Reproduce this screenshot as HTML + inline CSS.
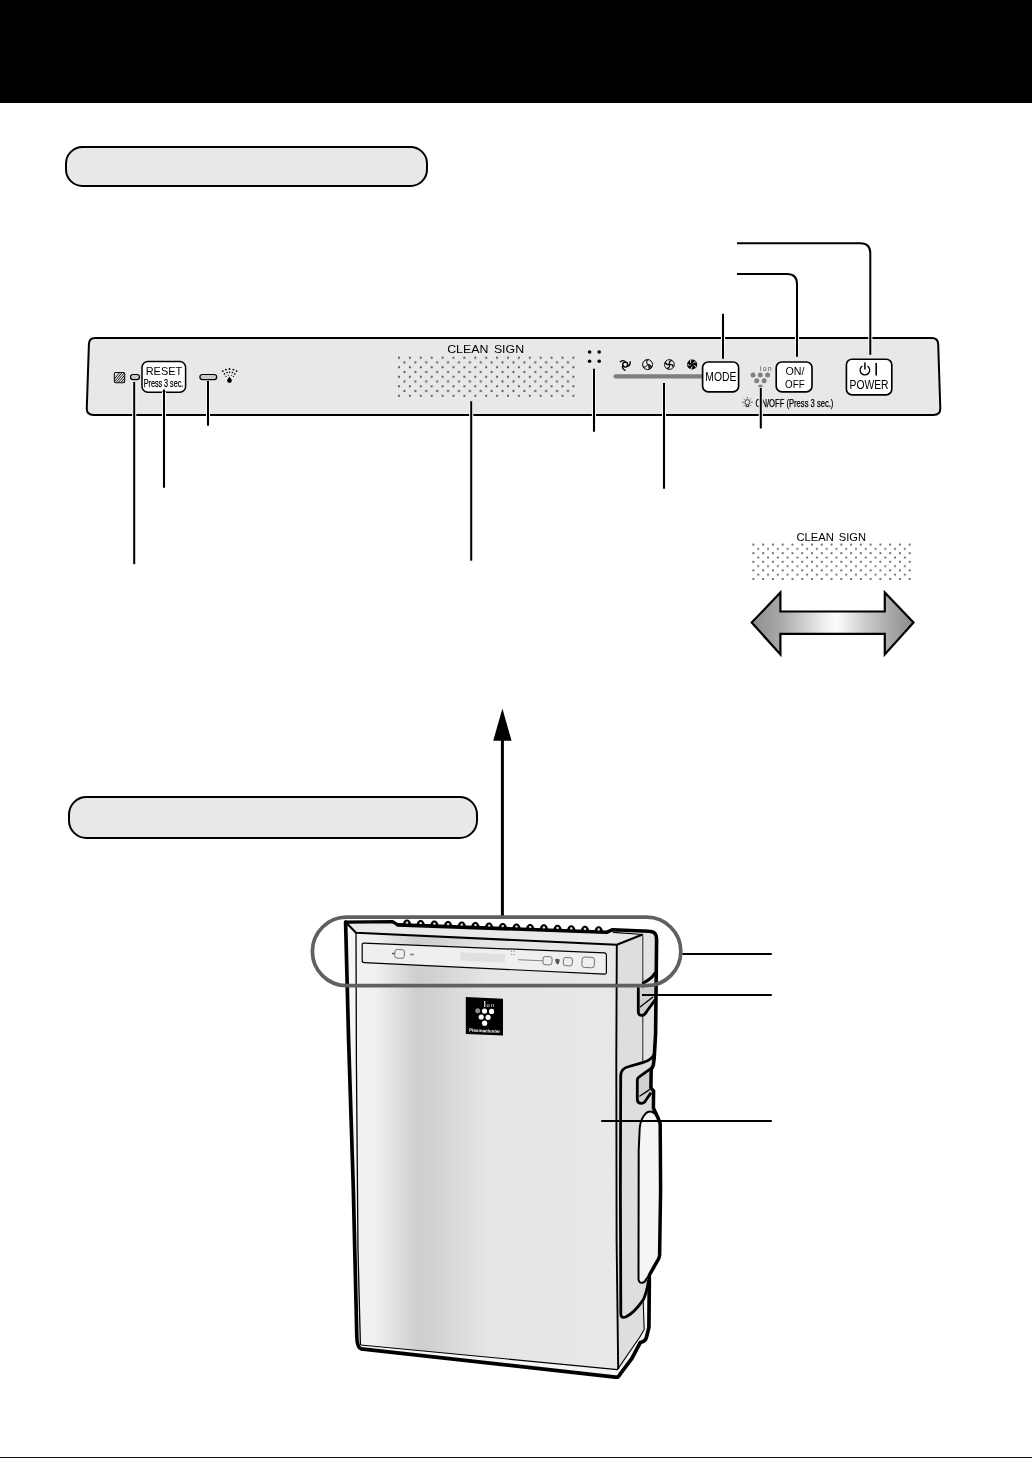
<!DOCTYPE html>
<html><head><meta charset="utf-8"><style>
html,body{margin:0;padding:0;background:#fff;}
body{width:1032px;height:1458px;overflow:hidden;font-family:"Liberation Sans",sans-serif;}
svg{position:absolute;left:0;top:0;display:block;will-change:transform;}
text{font-family:"Liberation Sans",sans-serif;fill:#000;}
</style></head><body>
<svg width="1032" height="1458" viewBox="0 0 1032 1458">
<defs>
<pattern id="dotsA" x="398" y="356.7" width="10.9" height="9.52" patternUnits="userSpaceOnUse">
<circle cx="1" cy="1" r="1.12" fill="#5c5c5c"/><circle cx="6.45" cy="5.76" r="1.12" fill="#5c5c5c"/>
</pattern>
<pattern id="dotsB" x="752.4" y="543.6" width="9.77" height="8.6" patternUnits="userSpaceOnUse">
<circle cx="1" cy="1" r="1.05" fill="#606060"/><circle cx="5.885" cy="5.3" r="1.05" fill="#606060"/>
</pattern>
<linearGradient id="arrowG" x1="0" x2="1" y1="0" y2="0">
<stop offset="0" stop-color="#8e8e8e"/><stop offset="0.176" stop-color="#a8a8a8"/><stop offset="0.30" stop-color="#c8c8c8"/><stop offset="0.45" stop-color="#f0f0f0"/><stop offset="0.527" stop-color="#fcfcfc"/><stop offset="0.669" stop-color="#d4d4d4"/><stop offset="0.823" stop-color="#b0b0b0"/><stop offset="1" stop-color="#8a8a8a"/>
</linearGradient>
<linearGradient id="frontG" gradientUnits="userSpaceOnUse" x1="356" x2="618" y1="0" y2="0">
<stop offset="0" stop-color="#f3f3f3"/><stop offset="0.08" stop-color="#efefef"/><stop offset="0.235" stop-color="#cecece"/><stop offset="0.28" stop-color="#d0d0d0"/><stop offset="0.5" stop-color="#e5e5e5"/><stop offset="1" stop-color="#e8e8e8"/>
</linearGradient>
</defs>

<!-- header -->
<rect x="0" y="0" width="1032" height="103" fill="#000"/>

<!-- section pills -->
<rect x="66" y="147" width="361" height="39" rx="16.5" fill="#e8e8e8" stroke="#000" stroke-width="2"/>
<rect x="69" y="797" width="408" height="41" rx="17.5" fill="#e8e8e8" stroke="#000" stroke-width="2"/>

<!-- PANEL -->
<g id="panel">
<path d="M95.2,338 H931.8 Q938,338 938.2,344.2 L940.3,408 Q940.5,415 933.5,415 H93.6 Q86.5,415 86.8,408 L88.9,344.2 Q89.1,338 95.2,338 Z" fill="#e8e8e8" stroke="#000" stroke-width="2"/>

<!-- hatched square -->
<g>
<clipPath id="hsq"><rect x="114.3" y="372.5" width="10.4" height="10.2" rx="1.4"/></clipPath>
<rect x="114.3" y="372.5" width="10.4" height="10.2" rx="1.4" fill="#e2e2e2"/>
<g clip-path="url(#hsq)" stroke="#111" stroke-width="0.95">
<path d="M110,384 l11,-13 M112.4,384 l11,-13 M114.8,384 l11,-13 M117.2,384 l11,-13 M119.6,384 l11,-13 M122,384 l11,-13"/>
</g>
<rect x="114.3" y="372.5" width="10.4" height="10.2" rx="1.4" fill="none" stroke="#111" stroke-width="1.1"/>
</g>
<!-- small LED -->
<rect x="130.5" y="374.5" width="9" height="5.2" rx="2.6" fill="#c8c8c8" stroke="#000" stroke-width="1.2"/>
<!-- RESET button -->
<rect x="142" y="361.6" width="43.6" height="30.6" rx="5.8" fill="#fff" stroke="#000" stroke-width="1.5"/>
<text x="164" y="375" font-size="11.4" text-anchor="middle" textLength="36.6" lengthAdjust="spacingAndGlyphs">RESET</text>
<text x="163.5" y="386.6" font-size="10" text-anchor="middle" textLength="39.6" lengthAdjust="spacingAndGlyphs" stroke="#000" stroke-width="0.25">Press 3 sec.</text>
<!-- long LED -->
<rect x="199.9" y="374.5" width="16.8" height="5.2" rx="2.6" fill="#c8c8c8" stroke="#000" stroke-width="1.2"/>
<!-- water drop icon -->
<g fill="#000">
<path d="M229.5,376.4 C230.4,378 231.9,379.2 231.9,380.6 A2.4,2.4 0 0 1 227.1,380.6 C227.1,379.2 228.6,378 229.5,376.4 Z"/>
<circle cx="222.8" cy="371.1" r="0.95"/><circle cx="225.9" cy="369.6" r="0.95"/><circle cx="229.5" cy="369" r="0.95"/><circle cx="233.4" cy="369.6" r="0.95"/><circle cx="236.5" cy="371.1" r="0.95"/>
<circle cx="224.5" cy="373.9" r="0.8"/><circle cx="227" cy="372.5" r="0.8"/><circle cx="229.5" cy="372.2" r="0.8"/><circle cx="232.4" cy="372.5" r="0.8"/><circle cx="234.8" cy="373.9" r="0.8"/>
<circle cx="225.9" cy="376.4" r="0.55"/><circle cx="228.3" cy="375.2" r="0.55"/><circle cx="231.4" cy="375.3" r="0.55"/><circle cx="233.4" cy="376.4" r="0.6"/>
</g>

<!-- CLEAN SIGN -->
<text x="447.2" y="352.8" font-size="11.6" textLength="41.2" lengthAdjust="spacingAndGlyphs">CLEAN</text><text x="493.9" y="352.8" font-size="11.6" textLength="30.2" lengthAdjust="spacingAndGlyphs">SIGN</text>
<rect x="397" y="355.6" width="179" height="41.8" fill="url(#dotsA)"/>

<!-- four dots -->
<g fill="#000"><circle cx="589.6" cy="352" r="1.8"/><circle cx="599.2" cy="352" r="1.8"/><circle cx="589.6" cy="361.3" r="1.8"/><circle cx="599.2" cy="361.3" r="1.8"/></g>

<!-- fan bar -->
<path d="M615.6,376.4 H703" stroke="#7e7e7e" stroke-width="4.3" stroke-linecap="round" fill="none"/>
<!-- fan icons -->
<g id="fans" stroke="#000" fill="none" stroke-width="1.1">
 <g transform="translate(625.2,364.6)">
  <circle r="2.5" stroke-width="1.35"/>
  <path d="M0.45,-2.56 C-0.54,-3.86 -2.76,-4.41 -4.94,-2.85 M1.99,1.67 C3.62,1.46 5.20,-0.18 4.94,-2.85 M-2.44,0.89 C-3.07,2.40 -2.44,4.59 0.00,5.70 " stroke-width="1.3" stroke-linecap="round"/>
 </g>
 <g transform="translate(647.6,364.6)">
  <circle r="5" stroke-width="1"/>
  <path d="M0,0 C-1.6,-2.2 -0.8,-4.2 0.8,-4.9 M0,0 C2.8,-0.2 4.2,1.6 4,3.2 M0,0 C-1.4,2.6 -3.4,2.8 -4.8,1.6" stroke-width="1"/>
  <path d="M0,0 C2.8,-0.2 4.2,1.6 4,3.2 A5,5 0 0 1 1.2,4.85 Z" fill="#000" stroke="none" opacity="0.8"/>
  <path d="M0,0 C-1.6,-2.2 -0.8,-4.2 0.8,-4.9 A5,5 0 0 0 -2.4,-4.4 Z" fill="#000" stroke="none" opacity="0.45"/>
  <path d="M0,0 C-1.4,2.6 -3.4,2.8 -4.8,1.6 A5,5 0 0 0 -3.4,3.7 Z" fill="#000" stroke="none" opacity="0.45"/>
 </g>
 <g transform="translate(669.4,364.5)">
  <circle r="4.9" stroke-width="1" stroke="#111"/>
  <path d="M0,0 Q-0.93,-2.85 2.49,-3.99 M0,0 Q2.85,-0.93 3.99,2.49 M0,0 Q0.93,2.85 -2.49,3.99 M0,0 Q-2.85,0.93 -3.99,-2.49 " stroke-width="1.15"/>
  <path d="M0,0 Q-0.93,-2.85 2.49,-3.99 A4.8,4.8 0 0 0 0.00,-4.80 Z M0,0 Q2.85,-0.93 3.99,2.49 A4.8,4.8 0 0 0 4.80,0.00 Z M0,0 Q0.93,2.85 -2.49,3.99 A4.8,4.8 0 0 0 0.00,4.80 Z M0,0 Q-2.85,0.93 -3.99,-2.49 A4.8,4.8 0 0 0 -4.80,0.00 Z " fill="#000" stroke="none" opacity="0.45"/>
 </g>
 <g transform="translate(692.1,364.5)">
  <circle r="5.1" fill="#000" stroke="none"/>
  <path d="M0.23,-0.87 Q1.09,-2.58 3.07,-3.29 L3.94,-2.18 Q1.64,-2.02 0.23,-0.87 Z M0.90,-0.05 Q2.79,0.24 4.08,1.90 L3.29,3.07 Q2.43,0.93 0.90,-0.05 Z M0.32,0.84 Q0.63,2.73 -0.55,4.47 L-1.90,4.08 Q-0.14,2.60 0.32,0.84 Z M-0.70,0.57 Q-2.40,1.44 -4.42,0.86 L-4.47,-0.55 Q-2.51,0.67 -0.70,0.57 Z M-0.75,-0.49 Q-2.11,-1.84 -2.18,-3.94 L-0.86,-4.42 Q-1.42,-2.18 -0.75,-0.49 Z " fill="#ececec" stroke="none"/>
 </g>
</g>

<!-- MODE button -->
<rect x="702.6" y="362" width="36" height="29.8" rx="5.6" fill="#fff" stroke="#000" stroke-width="1.65"/>
<text x="720.8" y="381.4" font-size="13.2" text-anchor="middle" textLength="31" lengthAdjust="spacingAndGlyphs">MODE</text>

<!-- Ion icon -->
<g fill="#808080">
<circle cx="753" cy="375" r="2.5"/><circle cx="760.3" cy="375" r="2.5"/><circle cx="767.6" cy="375" r="2.5"/>
<circle cx="756.7" cy="380.8" r="2.5"/><circle cx="764.1" cy="380.8" r="2.5"/>
<circle cx="760.5" cy="386.6" r="2.2"/>
</g>
<text x="759.5" y="370.7" font-size="6.8" style="fill:#787878;stroke:#787878;stroke-width:0.2" textLength="12" lengthAdjust="spacing">Ion</text>

<!-- ON/OFF button -->
<rect x="776.2" y="362" width="35.8" height="29.8" rx="5.6" fill="#fff" stroke="#000" stroke-width="1.65"/>
<text x="794.9" y="374.8" font-size="11.6" text-anchor="middle" textLength="19" lengthAdjust="spacingAndGlyphs">ON/</text>
<text x="794.9" y="387.5" font-size="11.6" text-anchor="middle" textLength="19.6" lengthAdjust="spacingAndGlyphs">OFF</text>

<!-- POWER button -->
<rect x="846.4" y="359.2" width="45.4" height="35.6" rx="5.6" fill="#fff" stroke="#000" stroke-width="1.65"/>
<g stroke="#000" fill="none" stroke-width="1.3">
<path d="M862.4,366 A4.8,4.8 0 1 0 867.4,366"/>
<path d="M864.9,362.6 V369.6" stroke-width="1.5"/>
<path d="M876.2,363 V375.5" stroke-width="1.6"/>
</g>
<text x="869" y="389.4" font-size="12" text-anchor="middle" textLength="39" lengthAdjust="spacingAndGlyphs">POWER</text>

<!-- light icon + text -->
<g stroke="#111" fill="none" stroke-width="0.8">
<circle cx="747.4" cy="402.2" r="2.5"/>
<path d="M746.2,404.8 V406.6 H748.6 V404.8" stroke-width="0.9"/>
<path d="M747.4,397.2 V398.4 M743.9,398.7 L744.7,399.5 M750.9,398.7 L750.1,399.5 M742.2,402.2 H743.5 M751.3,402.2 H752.6 M743.9,405.7 L744.7,404.9 M750.9,405.7 L750.1,404.9" stroke-width="0.9"/>
</g>
<text x="755.6" y="406.5" font-size="10.3" textLength="77.8" lengthAdjust="spacingAndGlyphs" stroke="#000" stroke-width="0.25">ON/OFF (Press 3 sec.)</text>
</g>

<!-- LEADERS (white halo + black) -->
<g fill="none" stroke="#f4f4f4" stroke-width="4.2" stroke-linecap="butt">
<path d="M134.2,383 V563"/><path d="M164,392 V487"/><path d="M208,382 V425"/>
<path d="M471.2,402.5 V560"/><path d="M594,370 V431"/><path d="M664,384.5 V488"/><path d="M760.8,387 V428"/>
<path d="M723,315 V357.5"/><path d="M797,330 V355.5"/><path d="M870.3,330 V353.5"/>
</g>
<g fill="none" stroke="#000" stroke-width="2">
<path d="M134.2,382 V564.2"/><path d="M164,389.4 V487.8"/><path d="M208,381 V425.8"/>
<path d="M471.2,401.2 V560.7"/><path d="M594,368.7 V431.7"/><path d="M664,383 V488.7"/><path d="M760.8,387.8 V428.5"/>
<path d="M723,313.8 V358.7"/>
<path d="M737,273.9 H787 Q797,273.9 797,284 V356.7"/>
<path d="M737,243.2 H860.3 Q870.3,243.2 870.3,253.2 V354.7"/>
</g>

<!-- right CLEAN SIGN + double arrow -->
<text x="796.4" y="540.6" font-size="10.7" textLength="37.4" lengthAdjust="spacingAndGlyphs">CLEAN</text><text x="838.8" y="540.6" font-size="10.7" textLength="27.2" lengthAdjust="spacingAndGlyphs">SIGN</text>
<rect x="751.4" y="542.6" width="161" height="38.5" fill="url(#dotsB)"/>
<path d="M751.7,622.6 L780.4,592.6 V611.5 H884.8 V592.6 L913.5,622.6 L884.8,654.4 V633.8 H780.4 V654.4 Z" fill="url(#arrowG)" stroke="#000" stroke-width="2.2" stroke-linejoin="miter"/>

<!-- up arrow -->
<path d="M502.4,739 V916" stroke="#000" stroke-width="3" fill="none"/>
<path d="M502.4,708.6 L511.6,740.8 H493.2 Z" fill="#000"/>

<!-- DEVICE -->
<g id="device">

<!-- left sliver -->
<path d="M345.5,922 L356,932 L360.5,1345 L358,1346 Z" fill="#f6f6f6"/>
<!-- top face -->
<path d="M345.5,922 L393,921.5 L398,925 L606,932.2 L612.6,929.8 L650,931.4 L643,934.6 L616.8,944.8 L356,932.8 Z" fill="#e9e9e9"/>
<!-- front face -->
<path d="M356,932.8 L616.8,944.8 L618.6,1373 L360,1346 Z" fill="url(#frontG)"/>
<!-- side face -->
<path d="M616.8,944.8 L643,934.6 L650,931.4 Q656.8,931.6 656.4,939 L655.6,1034 L654,1062 L651,1070 L651,1088 L653.6,1091 L653.4,1108 L658,1118 L660.4,1124 L659.6,1255 L657,1261.6 L649.4,1275 L649,1327 L646.3,1336.7 L640.6,1342 L631.9,1358.3 L619.5,1374.8 L618.4,1373 Z" fill="#dedede"/>
<path d="M643,935.8 L650,931.6 Q656.6,931.8 656.2,939 L655.4,1034 L654,1058 L643,1062 Z" fill="#e3e3e3"/>
<!-- base sliver right -->
<path d="M643.2,1301.7 L644.2,1329.5 L640,1336.7 L617.5,1369.6 L619.5,1374.8 L631.9,1358.3 L640.6,1342 L646.3,1336.7 L649,1327 L649.2,1281 Z" fill="#f4f4f4"/>
<!-- front bottom thin highlight -->
<path d="M360.6,1345 L617,1369.8 L615.6,1376.6 L359.5,1348.6 Z" fill="#f6f6f6"/>

<!-- top face lines -->
<path d="M345.8,922.2 L356,932.8 L616.8,944.8 L642.6,934.6" fill="none" stroke="#000" stroke-width="2.1" stroke-linejoin="round"/>
<path d="M613,932.4 L642.6,934.5" fill="none" stroke="#000" stroke-width="1.2"/>
<!-- front inner left + right edges -->
<path d="M356,932.8 L356.4,1060 L358,1250 L360.4,1345" fill="none" stroke="#000" stroke-width="1.3"/>
<path d="M616.8,944.8 L616.3,1060 L616.6,1240 L618.2,1369" fill="none" stroke="#000" stroke-width="1.9"/>
<path d="M360.6,1345 L617.4,1369.6 L640,1336.7 L644.2,1329.5 L643.2,1301.7" fill="none" stroke="#000" stroke-width="1.1" stroke-linejoin="round"/>
<!-- thin vertical on side -->
<path d="M642.8,934.6 V1061" fill="none" stroke="#333" stroke-width="1.1"/>

<!-- control strip on device -->
<path d="M364,943.1 L604.6,952.9 Q606.4,953 606.4,955 L606.4,972.2 Q606.4,974.2 604.4,974.1 L364.2,962.6 Q362.2,962.5 362.2,960.5 L362.2,945 Q362.2,943 364,943.1 Z" fill="#efefef" stroke="#000" stroke-width="1.2"/>
<g fill="none" stroke="#555" stroke-width="0.8">
<rect x="394.8" y="949.6" width="9.6" height="8.6" rx="2.2" transform="rotate(2.3 399.6 953.9)"/>
<path d="M392,953.5 h2.6" stroke-width="1.4"/>
<ellipse cx="411.9" cy="954.6" rx="2.2" ry="1" fill="#888" stroke="none"/>
<rect x="543" y="956.6" width="9" height="8.2" rx="2.2" transform="rotate(2.5 547.5 960.7)"/>
<rect x="563.4" y="957.6" width="9" height="8.2" rx="2.2" transform="rotate(2.5 567.9 961.7)"/>
<rect x="582" y="957.2" width="12.4" height="10.4" rx="2.6" transform="rotate(2.5 588.2 962.4)"/>
<path d="M518.2,959.7 L543,960.8" stroke="#777" stroke-width="0.9"/>
</g>
<path d="M555,959.6 q2.4,-1.6 4.8,0.2 q-0.2,3.4 -2.2,5 q-2.2,-1.8 -2.6,-5.2 z" fill="#555"/>
<g fill="#555"><circle cx="511.4" cy="951.2" r="0.5"/><circle cx="514" cy="951.3" r="0.5"/><circle cx="511.4" cy="954.4" r="0.5"/><circle cx="514" cy="954.5" r="0.5"/></g>
<path d="M460.5,952.3 L505,954.2 L505,962.6 L460.5,960.6 Z" fill="#d6d6d6" opacity="0.6"/>

<!-- logo -->
<path d="M465.8,997 L503,998.7 L503,1035.6 L465.8,1033.9 Z" fill="#000"/>
<g fill="#fff">
<circle cx="477.7" cy="1010.8" r="2.5" fill="#8a8a8a"/><circle cx="484.5" cy="1011.1" r="2.6"/><circle cx="491.6" cy="1011.4" r="2.6"/>
<circle cx="481.2" cy="1017" r="2.6"/><circle cx="488.1" cy="1017.3" r="2.6"/><circle cx="484.6" cy="1023.2" r="2.6"/>
<rect x="484.2" y="1001" width="1.1" height="6"/>
<text x="469" y="1031.6" font-size="4.6" font-weight="bold" style="fill:#fff" textLength="31" lengthAdjust="spacingAndGlyphs" transform="rotate(2.6 469 1031.6)">Plasmacluster</text>
</g>
<text x="486.4" y="1007.2" font-size="5.6" style="fill:#fff" textLength="7.8" lengthAdjust="spacing">on</text>

<!-- notches -->
<path d="M638.3,988.4 V1011.6 Q638.4,1015.6 642,1015.4 Q645,1015 647,1011 L654.6,1000.6 V988 Z" fill="#d0d0d0"/>
<path d="M653,1067.4 L638.8,1077.1 Q637.3,1078 637.3,1080 V1099.4 Q637.4,1103.4 641.7,1103.3 Q644.6,1103 646,1100 L650.6,1093.4 V1070 Z" fill="#d0d0d0"/>

<!-- handle -->
<path d="M657.4,1117 C654,1111.2 649.4,1110 645.6,1113.6 C642,1117.4 640.2,1123 639.7,1128 L638.7,1150 L638.5,1279 Q638.8,1283 642,1282.8 Q645,1282.4 646.4,1279 L649.4,1275 L657,1261.6 L659.6,1255 L660.4,1124 Z" fill="#f5f5f5"/>
<path d="M657.4,1117 C654,1111.2 649.4,1110 645.6,1113.6 C642,1117.4 640.2,1123 639.7,1128 L638.7,1150 L638.5,1279 Q638.8,1283 642,1282.8 Q645,1282.4 646.4,1279 L649.4,1275" fill="none" stroke="#000" stroke-width="2"/>

<!-- thick outlines -->
<g fill="none" stroke="#000" stroke-linejoin="round" stroke-linecap="round">
<!-- left outer -->
<path d="M345.6,922.2 L348.6,1040 L353.3,1188 L356.8,1336 Q357,1347.6 361,1348.8 L615.4,1377.2 Q618.6,1377.4 619.6,1374.8 L631.9,1358.3 L640.4,1342.4 Q645.8,1341.4 646.6,1336.7 L648.9,1327.4 L649.3,1281" stroke-width="3.7"/>
<!-- top back edge -->
<path d="M345.6,922.2 L392.6,921.6 L397.8,924.9" stroke-width="3.2"/>
<path d="M397.8,924.9 L606.5,932.3 L612.6,929.7 L649,931.2 Q657,931.2 656.6,940 L655.6,1034 L654.2,1058" stroke-width="3.6"/>
<!-- "(" arc -->
<path d="M643.3,983 C648,980.6 652.6,977.6 654.8,973.3" stroke-width="3"/>
<!-- notch 1 -->
<path d="M638.3,988.4 V1011.6 Q638.4,1015.6 642,1015.4 Q645,1015 647,1011 L654.6,1000.6" stroke-width="2.8"/>
<path d="M640.4,1006.7 L652.6,997.2" stroke-width="1.4"/>
<!-- lower side panel -->
<path d="M654.3,1054 C652.4,1058.6 648,1061.2 642.6,1062.6 L629,1066.5 Q620.6,1068.4 620.7,1076 L620.4,1190 L620.8,1314 Q621,1318.6 625.6,1317 C632,1314 639,1306 643.4,1299.6 C646,1294 647.4,1288 648.4,1281" stroke-width="2.8"/>
<!-- notch 2 -->
<path d="M652.8,1067.2 L638.8,1077.1 Q637.3,1078 637.3,1080.4 V1099.4 Q637.4,1103.4 641.7,1103.3 Q644.6,1103 646,1100 L650.4,1093.6" stroke-width="2.8"/>
<path d="M639.9,1096 L649.2,1089.8" stroke-width="1.4"/>
<!-- right silhouette lower -->
<path d="M654.2,1058 L653.4,1065 L651.2,1069.6 L650.9,1087.8 L653.6,1090.8 L653.4,1108 L658,1117.8 L660.2,1123.6 L660.6,1190 L659.6,1255.4 Q659.2,1259 657,1261.6 L649.4,1275 L649.3,1281" stroke-width="3.5"/>
</g>
<g id="bumps">
<path d="M402.7,925.0 C403.0,917.6 410.8,917.6 411.3,925.4 Z" fill="#000"/><ellipse cx="407.0" cy="922.7" rx="1.35" ry="1.15" fill="#dcdcdc"/>
<path d="M416.4,925.5 C416.7,918.1 424.5,918.1 425.0,925.9 Z" fill="#000"/><ellipse cx="420.7" cy="923.2" rx="1.35" ry="1.15" fill="#dcdcdc"/>
<path d="M430.1,926.0 C430.4,918.6 438.2,918.6 438.7,926.4 Z" fill="#000"/><ellipse cx="434.4" cy="923.7" rx="1.35" ry="1.15" fill="#dcdcdc"/>
<path d="M443.8,926.5 C444.1,919.1 451.9,919.1 452.4,926.9 Z" fill="#000"/><ellipse cx="448.1" cy="924.2" rx="1.35" ry="1.15" fill="#dcdcdc"/>
<path d="M457.5,927.0 C457.8,919.6 465.6,919.6 466.1,927.4 Z" fill="#000"/><ellipse cx="461.8" cy="924.7" rx="1.35" ry="1.15" fill="#dcdcdc"/>
<path d="M471.1,927.4 C471.4,920.0 479.2,920.0 479.8,927.8 Z" fill="#000"/><ellipse cx="475.4" cy="925.1" rx="1.35" ry="1.15" fill="#dcdcdc"/>
<path d="M484.8,927.9 C485.1,920.5 492.9,920.5 493.4,928.3 Z" fill="#000"/><ellipse cx="489.1" cy="925.6" rx="1.35" ry="1.15" fill="#dcdcdc"/>
<path d="M498.5,928.4 C498.8,921.0 506.6,921.0 507.1,928.8 Z" fill="#000"/><ellipse cx="502.8" cy="926.1" rx="1.35" ry="1.15" fill="#dcdcdc"/>
<path d="M512.2,928.9 C512.5,921.5 520.3,921.5 520.8,929.3 Z" fill="#000"/><ellipse cx="516.5" cy="926.6" rx="1.35" ry="1.15" fill="#dcdcdc"/>
<path d="M525.9,929.4 C526.2,922.0 534.0,922.0 534.5,929.8 Z" fill="#000"/><ellipse cx="530.2" cy="927.1" rx="1.35" ry="1.15" fill="#dcdcdc"/>
<path d="M539.6,929.8 C539.9,922.4 547.7,922.4 548.2,930.2 Z" fill="#000"/><ellipse cx="543.9" cy="927.5" rx="1.35" ry="1.15" fill="#dcdcdc"/>
<path d="M553.3,930.3 C553.6,922.9 561.4,922.9 561.9,930.7 Z" fill="#000"/><ellipse cx="557.6" cy="928.0" rx="1.35" ry="1.15" fill="#dcdcdc"/>
<path d="M567.0,930.8 C567.3,923.4 575.1,923.4 575.6,931.2 Z" fill="#000"/><ellipse cx="571.3" cy="928.5" rx="1.35" ry="1.15" fill="#dcdcdc"/>
<path d="M580.7,931.3 C581.0,923.9 588.8,923.9 589.3,931.7 Z" fill="#000"/><ellipse cx="585.0" cy="929.0" rx="1.35" ry="1.15" fill="#dcdcdc"/>
<path d="M594.4,931.8 C594.7,924.4 602.5,924.4 603.0,932.2 Z" fill="#000"/><ellipse cx="598.7" cy="929.5" rx="1.35" ry="1.15" fill="#dcdcdc"/>
</g>
</g>

<!-- callout ring -->
<rect x="312.4" y="917.2" width="368.4" height="68.4" rx="34.2" fill="none" stroke="#606060" stroke-width="3.7"/>
<!-- device leaders -->
<g fill="none" stroke="#000" stroke-width="2">
<path d="M682.4,954.1 H771.8"/><path d="M642,995.1 H771.8"/><path d="M601.2,1120.9 H771.8"/>
</g>


<!-- bottom rule -->
<rect x="0" y="1457" width="1032" height="1" fill="#111"/>
</svg>
</body></html>
